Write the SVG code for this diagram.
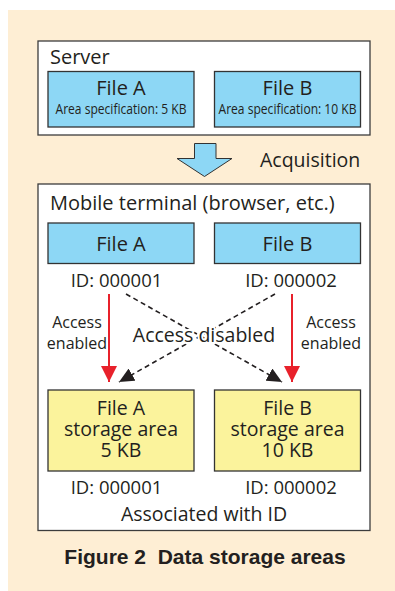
<svg xmlns="http://www.w3.org/2000/svg" width="395" height="591" viewBox="0 0 395 591">
  <defs>
    <marker id="redHead" viewBox="0 0 16 16" refX="16" refY="8" markerWidth="16" markerHeight="16" markerUnits="userSpaceOnUse" orient="auto">
      <path d="M0,0 L16,8 L0,16 z" fill="#E8212B"/>
    </marker>
    <marker id="blackHead" viewBox="0 0 15 14" refX="15" refY="7" markerWidth="15" markerHeight="14" markerUnits="userSpaceOnUse" orient="auto">
      <path d="M0,0 L15,7 L0,14 z" fill="#231F20"/>
    </marker>
  </defs>
  <style>
    .frame { fill: #ffffff; stroke: #3c3c3c; stroke-width: 1.3; }
    .file { fill: #8DD7F5; stroke: #333333; stroke-width: 1.3; }
    .area { fill: #FBF39C; stroke: #333333; stroke-width: 1.3; }
    text { font-family: "Open Sans", "Noto Sans", "DejaVu Sans", sans-serif; fill: #231F20; }
    .title { font-size: 20px; }
    .name { font-size: 20px; text-anchor: middle; }
    .line { font-size: 19.5px; text-anchor: middle; }
    .spec { font-size: 14px; text-anchor: middle; }
    .id { font-size: 18.5px; text-anchor: middle; }
    .note { font-size: 16px; text-anchor: middle; }
    .mid { font-size: 19.5px; text-anchor: middle; }
    .caption { font-family: "Liberation Sans", Arial, sans-serif; font-weight: bold; font-size: 21px; text-anchor: middle; }
    .enabled { stroke: #E8212B; stroke-width: 2; fill: none; }
    .disabled { stroke: #231F20; stroke-width: 1.6; stroke-dasharray: 5 3.5; fill: none; }
  </style>

  <!-- panel background -->
  <rect x="8" y="10" width="387" height="581" fill="#FEEED4"/>

  <!-- server side -->
  <g id="server">
    <rect class="frame" x="38" y="41" width="332" height="94"/>
    <text class="title" x="50" y="63.5">Server</text>
  </g>
  <g id="server-file-a">
    <rect class="file" x="48" y="71.5" width="146" height="55.5"/>
    <text class="name" x="121" y="94.5">File A</text>
    <text class="spec" x="121" y="114" textLength="131" lengthAdjust="spacingAndGlyphs">Area specification: 5 KB</text>
  </g>
  <g id="server-file-b">
    <rect class="file" x="214.5" y="71.5" width="146" height="55.5"/>
    <text class="name" x="287.5" y="94.5">File B</text>
    <text class="spec" x="287.5" y="114" textLength="138" lengthAdjust="spacingAndGlyphs">Area specification: 10 KB</text>
  </g>

  <!-- download step -->
  <g id="acquisition">
    <polygon points="194.5,143.5 216,143.5 216,158.5 232,158.5 204.5,176.5 177,158.5 194.5,158.5" fill="#8DD7F5" stroke="#333333" stroke-width="1"/>
    <text class="mid" x="260" y="167" style="text-anchor:start">Acquisition</text>
  </g>

  <!-- client side -->
  <g id="terminal">
    <rect class="frame" x="38" y="184" width="332" height="346.5"/>
    <text class="title" x="50" y="209.5">Mobile terminal (browser, etc.)</text>
    <text class="mid" x="204" y="521">Associated with ID</text>
  </g>
  <g id="file-a">
    <rect class="file" x="48" y="223" width="146" height="40.5"/>
    <text class="name" x="121" y="251">File A</text>
    <text class="id" x="116.5" y="287">ID: 000001</text>
  </g>
  <g id="file-b">
    <rect class="file" x="214.5" y="223" width="146" height="40.5"/>
    <text class="name" x="287.5" y="251">File B</text>
    <text class="id" x="291" y="287">ID: 000002</text>
  </g>
  <g id="area-a">
    <rect class="area" x="48" y="390" width="146" height="81"/>
    <text class="line" x="121" y="415">File A</text>
    <text class="line" x="121" y="436">storage area</text>
    <text class="line" x="121" y="457">5 KB</text>
    <text class="id" x="116.5" y="494">ID: 000001</text>
  </g>
  <g id="area-b">
    <rect class="area" x="214.5" y="390" width="146" height="81"/>
    <text class="line" x="287.5" y="415">File B</text>
    <text class="line" x="287.5" y="436">storage area</text>
    <text class="line" x="287.5" y="457">10 KB</text>
    <text class="id" x="291" y="494">ID: 000002</text>
  </g>

  <!-- access links -->
  <g id="connectors">
    <line class="enabled" x1="109" y1="294" x2="109" y2="382" marker-end="url(#redHead)"/>
    <line class="enabled" x1="292" y1="294" x2="292" y2="382" marker-end="url(#redHead)"/>
    <line class="disabled" x1="126" y1="294" x2="282" y2="382" marker-end="url(#blackHead)"/>
    <line class="disabled" x1="275" y1="294" x2="119" y2="382" marker-end="url(#blackHead)"/>
    <text class="note" x="77" y="328">Access</text>
    <text class="note" x="77" y="349">enabled</text>
    <text class="note" x="331" y="328">Access</text>
    <text class="note" x="331" y="349">enabled</text>
    <text class="mid" x="204" y="342" stroke="#ffffff" stroke-width="4" paint-order="stroke">Access disabled</text>
  </g>

  <text class="caption" x="205" y="564">Figure 2&#160; Data storage areas</text>
</svg>
